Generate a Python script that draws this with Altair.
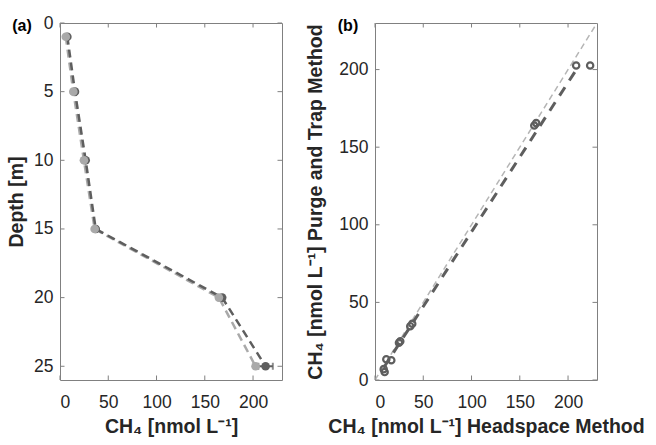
import altair as alt
import pandas as pd

# Panel (a): CH4 depth profile, two methods
depth = [1, 5, 10, 15, 20, 25]
purge_trap = [6.0, 13.8, 24.8, 35.9, 164.6, 202.6]
headspace = [7.6, 15.5, 26.6, 37.0, 168.0, 213.0]
headspace_err = [1.0, 1.5, 1.0, 1.0, 1.5, 7.5]

# Panel (b): paired samples, headspace (x) vs purge and trap (y)
hs_pairs = [10.0, 9.0, 11.7, 16.9, 24.8, 26.2, 36.5, 38.6, 165.0, 167.0, 208.4, 222.9]
pt_pairs = [5.1, 7.0, 13.3, 12.7, 24.0, 25.0, 34.7, 36.2, 164.0, 165.5, 202.6, 202.6]
one_to_one = [0, 230]

x_ticks = [0, 50, 100, 150, 200]
depth_ticks = [0, 5, 10, 15, 20, 25]
pt_ticks = [0, 50, 100, 150, 200]

W, H = 222, 357
TICK = 4.5
FONT = "Liberation Sans"
LIGHT = "#a9a9a9"
DARK = "#5e5e5e"
TEXT = "#262626"

prof = pd.DataFrame({"depth": depth, "pt": purge_trap, "hs": headspace,
                     "lo": [h - e for h, e in zip(headspace, headspace_err)],
                     "hi": [h + e for h, e in zip(headspace, headspace_err)]})
pairs = pd.DataFrame({"hs": hs_pairs, "pt": pt_pairs})
diag = pd.DataFrame({"hs": one_to_one, "pt": one_to_one})

xs = alt.Scale(domain=[0, 230], nice=False, zero=False)
ys_depth = alt.Scale(domain=[0, 26], reverse=True, nice=False, zero=False)
ys_pt = alt.Scale(domain=[0, 230], nice=False, zero=False)


def inward_ticks(xvals, yvals, xscale, yscale):
    """Short tick rules pointing into the plot on all four sides."""
    tx = pd.DataFrame({"v": xvals})
    ty = pd.DataFrame({"v": yvals})
    rule = dict(color="#808080", strokeWidth=1)
    bottom = alt.Chart(tx).mark_rule(**rule).encode(
        x=alt.X("v:Q", scale=xscale), y=alt.value(H), y2=alt.value(H - TICK))
    top = alt.Chart(tx).mark_rule(**rule).encode(
        x=alt.X("v:Q", scale=xscale), y=alt.value(0), y2=alt.value(TICK))
    left = alt.Chart(ty).mark_rule(**rule).encode(
        y=alt.Y("v:Q", scale=yscale), x=alt.value(0), x2=alt.value(TICK))
    right = alt.Chart(ty).mark_rule(**rule).encode(
        y=alt.Y("v:Q", scale=yscale), x=alt.value(W), x2=alt.value(W - TICK))
    return [bottom, top, left, right]


def panel_label(txt, dx):
    return alt.Chart(pd.DataFrame({"t": [txt]})).mark_text(
        font=FONT, fontSize=16, fontWeight="bold", color="#000000",
        align="center", baseline="middle").encode(
        text="t:N", x=alt.value(dx), y=alt.value(3))


# ---- panel (a)
xa = alt.X("pt:Q", scale=xs,
           axis=alt.Axis(values=x_ticks, title="CH₄ [nmol L⁻¹]"))
ya = alt.Y("depth:Q", scale=ys_depth,
           axis=alt.Axis(values=depth_ticks, title="Depth [m]", titlePadding=7))

base_a = alt.Chart(prof)
pt_line = base_a.mark_line(color=LIGHT, strokeWidth=2.5, strokeDash=[8, 5]).encode(
    x=xa, y=ya, order="depth:Q")
hs_line = base_a.mark_line(color=DARK, strokeWidth=2.5, strokeDash=[8, 5]).encode(
    x=alt.X("hs:Q", scale=xs), y=alt.Y("depth:Q", scale=ys_depth), order="depth:Q")
hs_err = base_a.mark_rule(color=DARK, strokeWidth=2).encode(
    x=alt.X("lo:Q", scale=xs), x2="hi:Q", y=alt.Y("depth:Q", scale=ys_depth))
hs_cap = base_a.mark_tick(color=DARK, thickness=2, size=7, orient="vertical")
hs_cap_lo = hs_cap.encode(x=alt.X("lo:Q", scale=xs), y=alt.Y("depth:Q", scale=ys_depth))
hs_cap_hi = hs_cap.encode(x=alt.X("hi:Q", scale=xs), y=alt.Y("depth:Q", scale=ys_depth))
pt_pts = base_a.mark_circle(color=LIGHT, opacity=1, size=75).encode(
    x=alt.X("pt:Q", scale=xs), y=alt.Y("depth:Q", scale=ys_depth))
hs_pts = base_a.mark_circle(color=DARK, opacity=1, size=75).encode(
    x=alt.X("hs:Q", scale=xs), y=alt.Y("depth:Q", scale=ys_depth))

panel_a = alt.layer(
    pt_line, hs_line, hs_err, hs_cap_lo, hs_cap_hi, hs_pts, pt_pts,
    *inward_ticks(x_ticks, depth_ticks, xs, ys_depth),
    panel_label("(a)", -38),
).properties(width=W, height=H)

# ---- panel (b)
xb = alt.X("hs:Q", scale=xs,
           axis=alt.Axis(values=x_ticks, title="CH₄ [nmol L⁻¹] Headspace Method"))
yb = alt.Y("pt:Q", scale=ys_pt,
           axis=alt.Axis(values=pt_ticks, title="CH₄ [nmol L⁻¹] Purge and Trap Method",
                         titlePadding=13))

diag_line = alt.Chart(diag).mark_line(color="#b5b5b5", strokeWidth=1.5,
                                      strokeDash=[6, 4], clip=True).encode(x=xb, y=yb)
fit_line = alt.Chart(pairs).transform_regression(
    "hs", "pt", extent=[9, 208]).mark_line(
    color=DARK, strokeWidth=3, strokeDash=[10, 8]).encode(
    x=alt.X("hs:Q", scale=xs), y=alt.Y("pt:Q", scale=ys_pt))
pair_pts = alt.Chart(pairs).mark_point(shape="circle", filled=False, color=DARK,
                                       strokeWidth=2.2, size=40, opacity=1).encode(
    x=alt.X("hs:Q", scale=xs), y=alt.Y("pt:Q", scale=ys_pt))

panel_b = alt.layer(
    diag_line, fit_line, pair_pts,
    *inward_ticks(x_ticks, pt_ticks, xs, ys_pt),
    panel_label("(b)", -27),
).properties(width=W, height=H)

chart = alt.hconcat(panel_a, panel_b, spacing=22).properties(
    padding={"left": 6, "top": 13, "right": 2, "bottom": 5},
    background="white",
).configure_view(
    stroke="#808080", strokeWidth=1,
).configure_axis(
    grid=False, domain=False, ticks=False,
    labelFont=FONT, labelFontSize=17.5, labelColor=TEXT,
    titleFont=FONT, titleFontSize=19.5, titleFontWeight="bold", titleColor=TEXT,
    titleLimit=1000,
).configure_axisX(
    labelPadding=13, titlePadding=7,
).configure_axisY(
    labelPadding=7,
)

chart.save("out.html", embed_options={"renderer": "svg", "actions": False})
